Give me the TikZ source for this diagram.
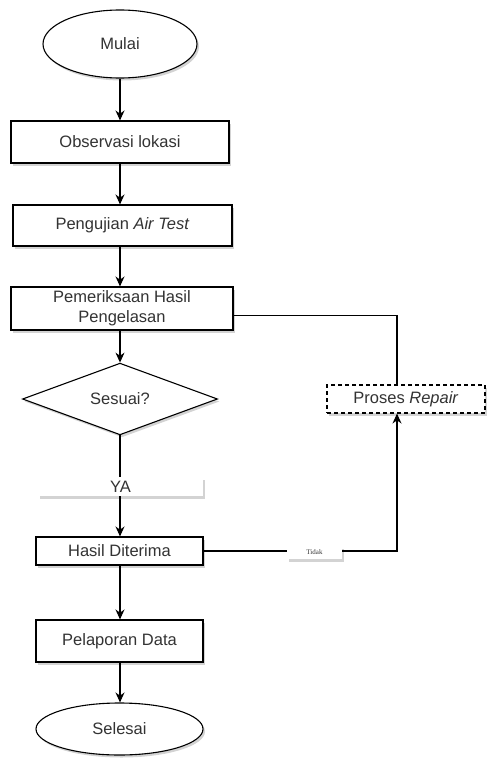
\documentclass[tikz,border=0pt]{standalone}
\usepackage{fontspec}
\setmainfont{Liberation Sans}
\newfontfamily\tidakfont{Liberation Serif}
\usetikzlibrary{shapes.geometric,shadows,arrows.meta}
\definecolor{txt}{HTML}{333333}
\tikzset{
  shad/.style={drop shadow={shadow xshift=2pt, shadow yshift=-2.5pt, opacity=0.35, fill=gray}},
  base/.style={draw=black, line width=1.1pt, fill=white, text=txt, inner sep=0pt,
    font=\fontsize{16.5}{20}\selectfont, shad},
  stepbox/.style={base, rectangle},
  term/.style={base, ellipse},
  decide/.style={base, diamond},
  lbl/.style={rectangle, fill=white, inner sep=0pt, text=txt, shad},
  conn/.style={line width=1.1pt, black},
  arr/.style={conn, -{Stealth[length=10pt,width=9pt]}}
}
\begin{document}
\begin{tikzpicture}[x=1pt,y=-1pt]
\useasboundingbox (0,0) rectangle (488,758);
\node[term, minimum width=154pt, minimum height=68pt] (mulai) at (120,44) {Mulai};
\node[stepbox, minimum width=218pt, minimum height=42pt] (obs) at (120,142) {Observasi lokasi};
\node[stepbox, minimum width=219pt, minimum height=41pt] (air) at (122.5,225.5) {Pengujian \textit{Air Test}};
\node[stepbox, minimum width=222pt, minimum height=43pt, align=center] (pem) at (122,308.5) {Pemeriksaan Hasil\\Pengelasan};
\node[decide, minimum width=195pt, minimum height=56pt] (ses) at (120,399) {Sesuai?};
\node[stepbox, dash pattern=on 4pt off 3pt, minimum width=158pt, minimum height=28pt] (rep) at (406,399) {Proses \textit{Repair}};
\node[lbl, minimum width=165pt, minimum height=19pt, font=\fontsize{16.5}{20}\selectfont] (ya) at (120.5,486.5) {YA};
\node[stepbox, minimum width=167pt, minimum height=28pt] (hasil) at (119.5,551) {Hasil Diterima};
\node[stepbox, minimum width=167pt, minimum height=42pt] (lap) at (119.5,641) {Pelaporan Data};
\node[term, minimum width=167pt, minimum height=52pt] (sel) at (119.5,729) {Selesai};
\node[lbl, minimum width=55pt, minimum height=13pt, font=\tidakfont\fontsize{7}{8}\selectfont] (tidak) at (314.5,552.5) {Tidak};

\draw[arr] (mulai) -- (mulai |- obs.north);
\draw[arr] (obs.south -| mulai) -- (mulai |- air.north);
\draw[arr] (air.south -| mulai) -- (mulai |- pem.north);
\draw[arr] (pem.south -| mulai) -- (ses);
\draw[conn] (ses) -- (ses |- ya.north);
\draw[arr] (ya.south -| ses) -- (ses |- hasil.north);
\draw[arr] (hasil.south -| ses) -- (ses |- lap.north);
\draw[arr] (lap.south -| ses) -- (ses |- sel.north);
\draw[conn] ([yshift=-7pt]pem.east) -| ([xshift=-9pt]rep.north);
\draw[conn] (hasil.east) -- (hasil.east -| tidak.west);
\draw[arr] (tidak.east |- hasil.east) -| ([xshift=-9pt]rep.south);
\end{tikzpicture}
\end{document}
